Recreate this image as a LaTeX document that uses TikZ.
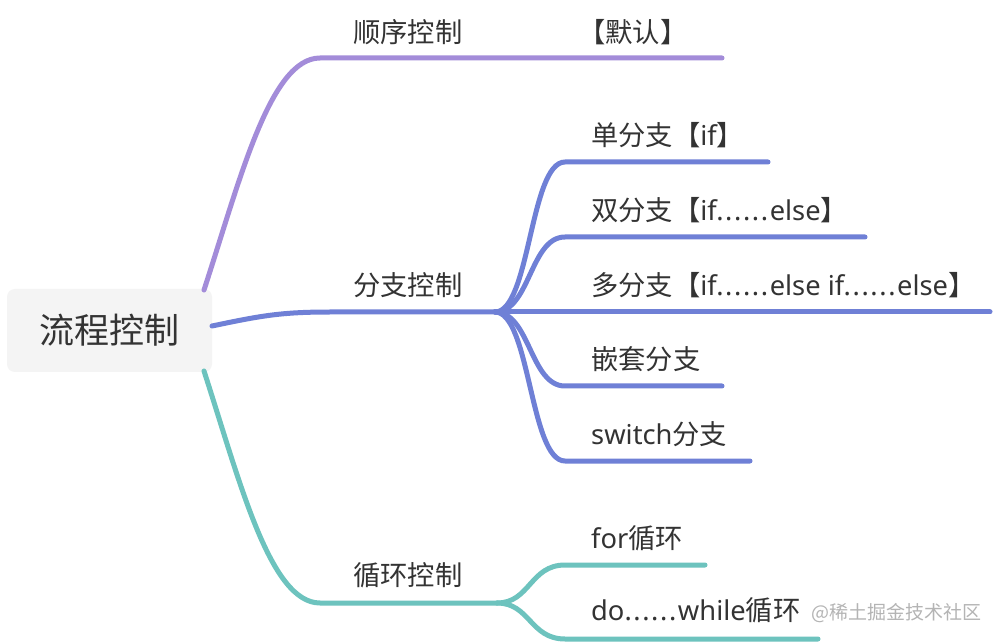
\documentclass[tikz,border=0pt]{standalone}
\usepackage{fontspec}
\setmainfont{Noto Sans}
\newfontfamily\cjk{Noto Sans CJK SC}
\newcommand{\sixdots}{.\kern1.6pt.\kern1.6pt.\kern1.6pt.\kern1.6pt.\kern1.6pt.\kern1.6pt}
\definecolor{txt}{HTML}{333333}
\definecolor{rootbg}{HTML}{F4F4F4}
\definecolor{cpur}{HTML}{A38CD9}
\definecolor{cblue}{HTML}{6F80D6}
\definecolor{cteal}{HTML}{6DC3BE}
\definecolor{wm}{HTML}{B4B4B4}
\begin{document}
\begin{tikzpicture}[x=1pt,y=-1pt,
  br/.style={line width=5pt, line cap=round},
  lbl/.style={anchor=west, inner sep=0pt, font=\fontsize{27.3}{30}\selectfont, text=txt}]
\useasboundingbox (0,0) rectangle (994,644);
\fill[white] (0,0) rectangle (994,644);
\node[fill=rootbg, rounded corners=8pt, minimum width=205pt, minimum height=83pt, inner sep=0pt,
  font=\cjk\fontsize{35}{40}\selectfont, text=txt] (root) at (109.5,330.5) {流程控制};
% coordinates
\coordinate (pS) at (204,290);
\coordinate (pE) at (722,58);
\coordinate (bS) at (212,326);
\coordinate (bF) at (495,312);
\coordinate (tS) at (204,371);
\coordinate (tF) at (497,603);
% purple
\draw[br, cpur] (pS) .. controls (240,180) and (270,58) .. (320,58) -- (pE);
% blue main
\draw[br, cblue] (bS) .. controls (260,316) and (280,312) .. (330,312) -- (bF);
\draw[br, cblue] (bF) .. controls (530,312) and (530,162) .. (565,162) -- (768,162);
\draw[br, cblue] (bF) .. controls (530,312) and (530,237) .. (565,237) -- (865,237);
\draw[br, cblue] (bF) -- (990,312);
\draw[br, cblue] (bF) .. controls (530,312) and (530,386) .. (565,386) -- (722,386);
\draw[br, cblue] (bF) .. controls (530,312) and (530,461) .. (565,461) -- (750,461);
% teal
\draw[br, cteal] (tS) .. controls (240,482) and (270,603) .. (320,603) -- (tF);
\draw[br, cteal] (tF) .. controls (530,603) and (530,565) .. (565,565) -- (705,565);
\draw[br, cteal] (tF) .. controls (530,603) and (530,639) .. (565,639) -- (818,639);
% labels
\node[lbl] (l1) at (353,32) {\cjk 顺序控制};
\node[lbl] (l1a) at (578,32) {\cjk 【默认】};
\node[lbl] (l2) at (353,285) {\cjk 分支控制};
\node[lbl] (b1) at (591,135) {{\cjk 单分支【}if{\cjk 】}};
\node[lbl] (b2) at (591,210) {{\cjk 双分支【}if\sixdots else{\cjk 】}};
\node[lbl] (b3) at (591,285) {{\cjk 多分支【}if\sixdots else if\sixdots else{\cjk 】}};
\node[lbl] (b4) at (591,359) {\cjk 嵌套分支};
\node[lbl] (b5) at (591,434) {switch{\cjk 分支}};
\node[lbl] (l3) at (353,575) {\cjk 循环控制};
\node[lbl] (c1) at (591,538) {for{\cjk 循环}};
\node[lbl] (c2) at (591,610) {do\sixdots while{\cjk 循环}};
\node[anchor=west, inner sep=0pt, font=\cjk\fontsize{19}{22}\selectfont, text=wm] (wmk) at (811,613) {@稀土掘金技术社区};
\end{tikzpicture}
\end{document}
